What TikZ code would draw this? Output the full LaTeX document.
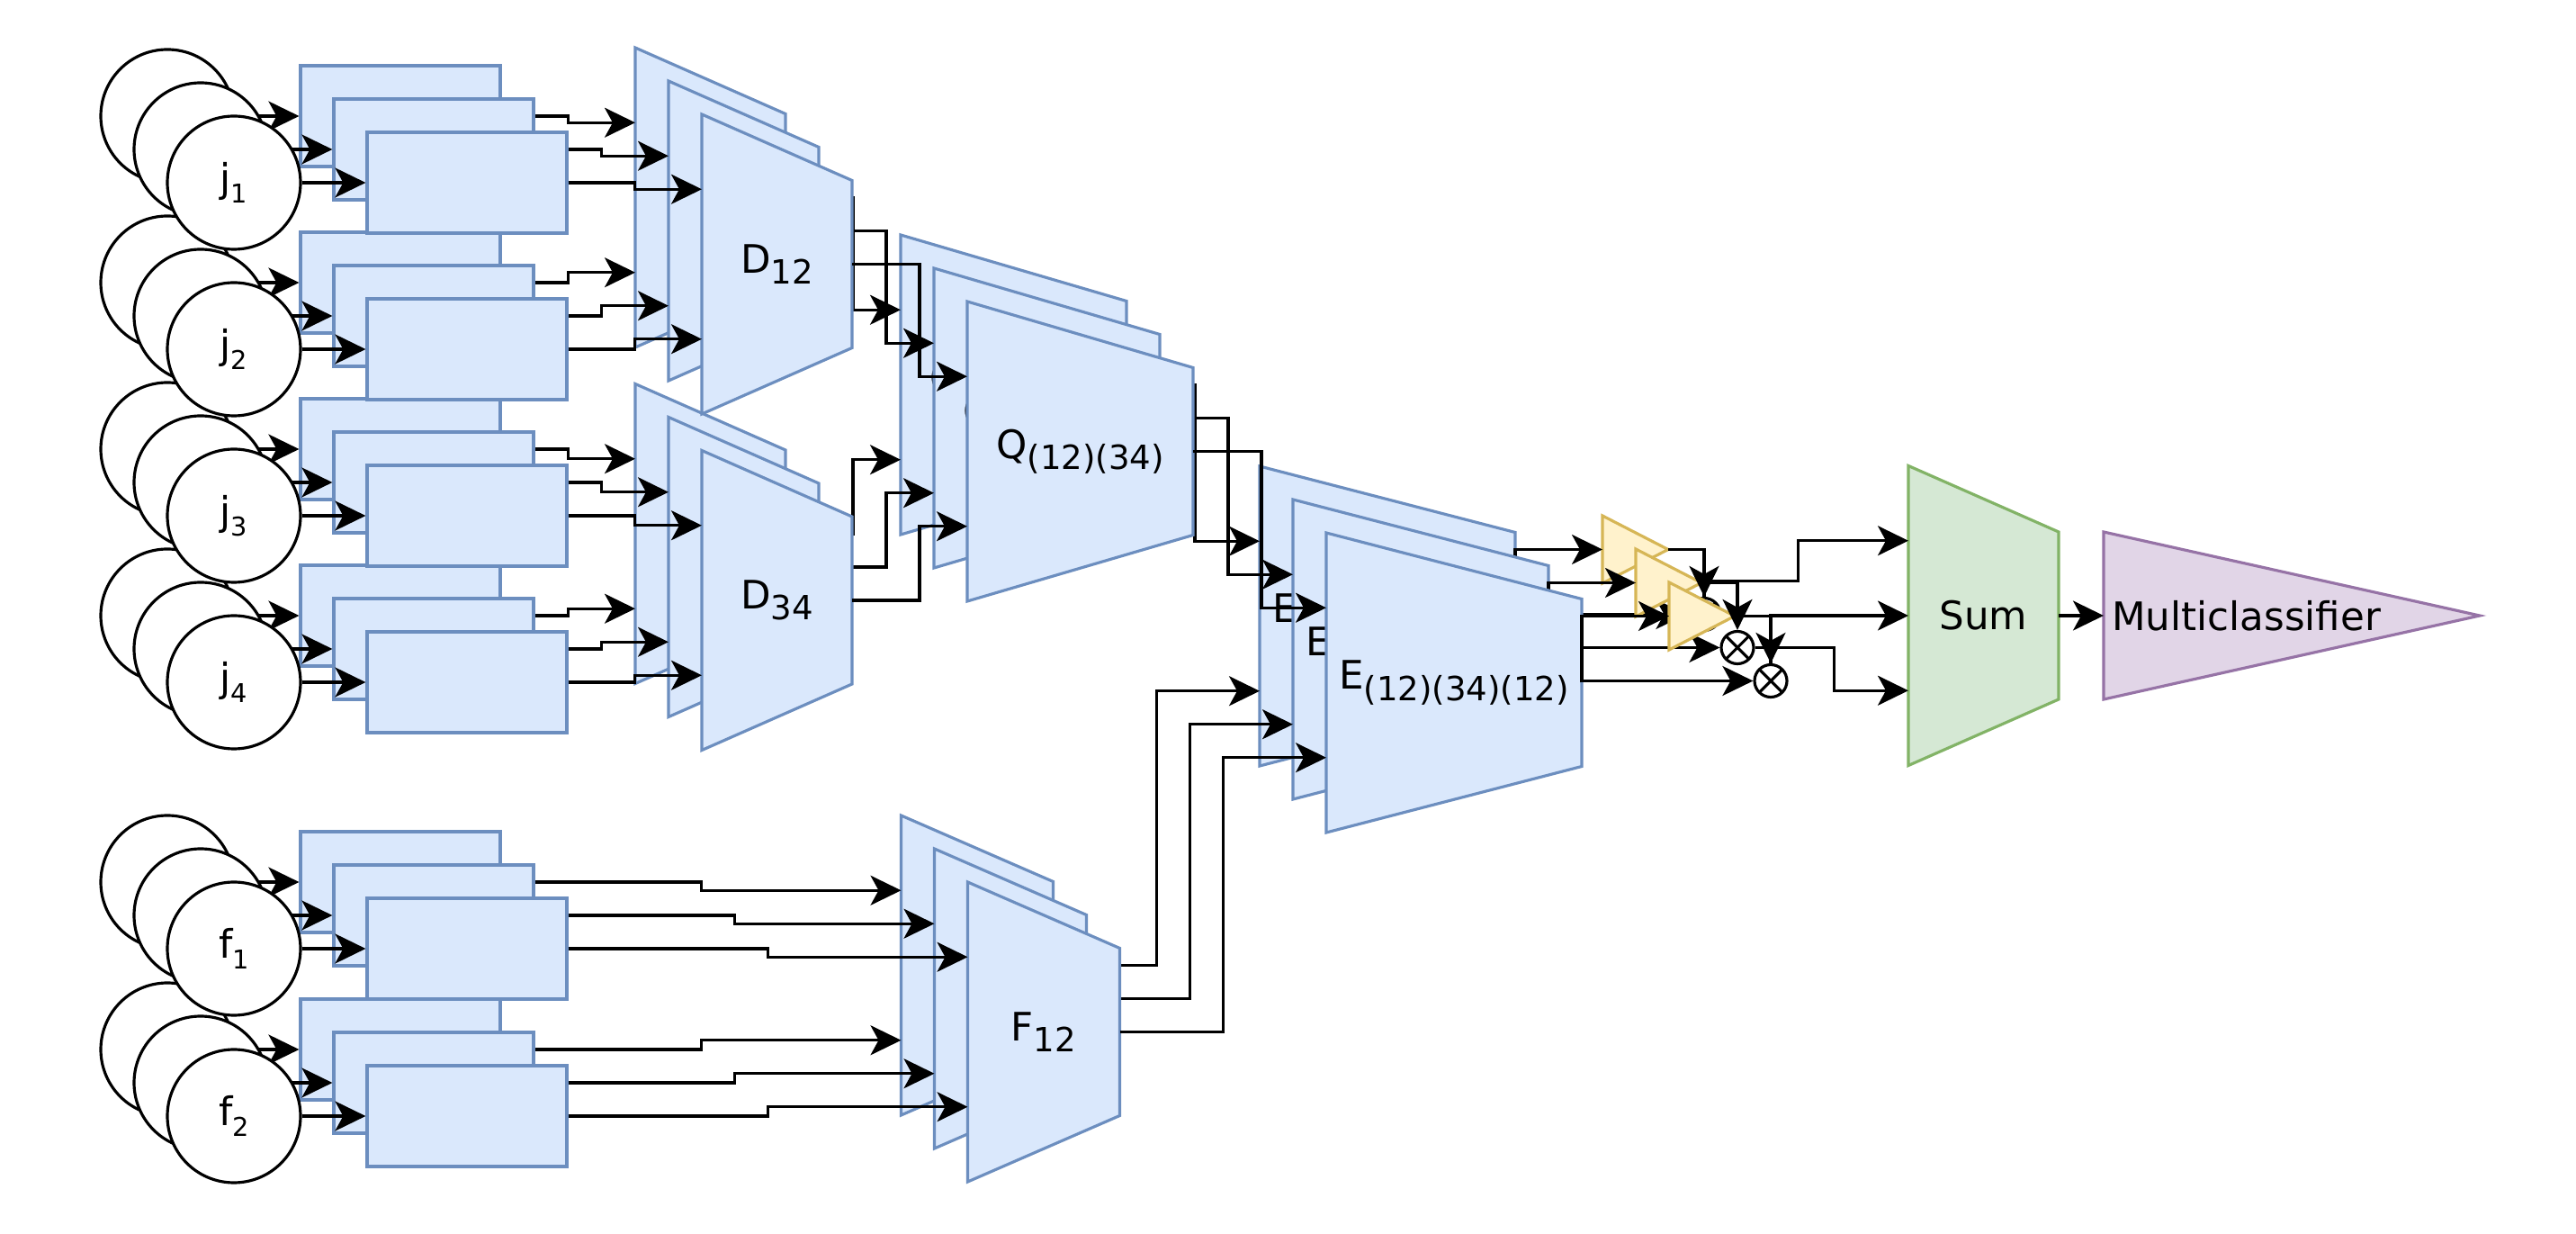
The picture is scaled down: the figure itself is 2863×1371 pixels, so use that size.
\documentclass[tikz,border=0pt]{standalone}
\usepackage{fontspec}
\setmainfont{DejaVu Sans}
\usepackage{tikz}
\usetikzlibrary{arrows.meta, calc}
\definecolor{bluefill}{HTML}{DAE8FC}
\definecolor{bluedraw}{HTML}{6C8EBF}
\definecolor{yelfill}{HTML}{FFF2CC}
\definecolor{yeldraw}{HTML}{D6B656}
\definecolor{grnfill}{HTML}{D5E8D4}
\definecolor{grndraw}{HTML}{82B366}
\definecolor{purfill}{HTML}{E1D5E7}
\definecolor{purdraw}{HTML}{9673A6}
\newcommand\lf{\fontsize{12.4}{15}\selectfont}
\newcommand\low[1]{\raisebox{-.28em}{\scalebox{.85}{#1}}}
\newcommand\lowc[1]{\raisebox{-.27em}{\scalebox{.66}{#1}}}
\tikzset{
  inp/.style={circle,draw=black,fill=white,line width=.9pt,minimum size=14.8mm,inner sep=0,font=\lf},
  blk/.style={rectangle,draw=bluedraw,fill=bluefill,line width=.9pt,minimum width=22.2mm,minimum height=11.2mm,inner sep=0},
  tbox/.style={inner sep=0,outer sep=0,minimum height=33.3mm},
  gbox/.style={inner sep=0,outer sep=0,minimum width=7.3mm,minimum height=7.5mm},
  cbox/.style={inner sep=0,outer sep=0,minimum width=41.8mm,minimum height=18.6mm},
  blu/.style={draw=bluedraw,fill=bluefill,line width=.9pt},
  yel/.style={draw=yeldraw,fill=yelfill,line width=.9pt},
  grn/.style={draw=grndraw,fill=grnfill,line width=.9pt},
  pur/.style={draw=purdraw,fill=purfill,line width=.9pt},
  mul/.style={circle,draw=black,fill=white,line width=.9pt,minimum size=3.6mm,inner sep=0,
    path picture={\draw[line width=.9pt] (path picture bounding box.north west) -- (path picture bounding box.south east)
      (path picture bounding box.south west) -- (path picture bounding box.north east);}},
  ar/.style={-{Stealth[length=3.4mm,width=3.3mm,inset=.9mm]},line width=.9pt},
  hvh/.style={to path={-| ($(\tikztostart)!.5!(\tikztotarget)$) |- (\tikztotarget) \tikztonodes}}
}
% trapezoid block: name, centre, width, style, text
\newcommand\trap[5]{%
  \node[tbox,minimum width=#3] (#1) at (#2) {};
  \draw[#4] (#1.north west) -- ($(#1.north east)+(0,73.5)$) -- ($(#1.south east)-(0,73.5)$) -- (#1.south west) -- cycle;
  \node[font=\lf] (#1-t) at (#1) {#5};
  \coordinate (#1-i1) at ($(#1.north west)!.25!(#1.south west)$);
  \coordinate (#1-i2) at ($(#1.north west)!.75!(#1.south west)$);
}
\begin{document}
\begin{tikzpicture}[x=0.1mm,y=-0.1mm]
\fill[white] (0,0) rectangle (2863,1371);
\useasboundingbox (0,0) rectangle (2863,1371);
% three stacked copies, back to front
\foreach \off/\lay in {74/a,37/b,0/c}{
  \trap{D12\lay}{863.5-\off,293.5-\off}{16.7mm}{blu}{D\low{12}}
  \trap{D34\lay}{863.5-\off,667-\off}{16.7mm}{blu}{D\low{34}}
  \trap{F12\lay}{1160-\off,1146.5-\off}{16.9mm}{blu}{F\low{12}}
  \trap{Q\lay}{1200.5-\off,501.5-\off}{25.1mm}{blu}{Q\low{(12)(34)}}
  \trap{E\lay}{1616-\off,758.5-\off}{28.4mm}{blu}{E\low{(12)(34)(12)}}
  \node[gbox] (g\lay) at (1891.5-\off,684.5-\off) {};
  \draw[yel] (g\lay.north west) -- (g\lay.east) -- (g\lay.south west) -- cycle;
  \node[mul] (m\lay) at (1968-\off,756.5-\off) {};
  % inputs
  \foreach \s/\n/\Y/\tr/\pn in {j/1/203/D12/1, j/2/388/D12/2, j/3/573/D34/1,
      j/4/758/D34/2, f/1/1054/F12/1, f/2/1240/F12/2}{
    \node[inp] (\s\n\lay) at (260-\off,\Y-\off) {\ifnum\off=0 \s\lowc{\n}\fi};
    \node[blk] (r\s\n\lay) at (519-\off,\Y-\off) {};
    \draw[ar] (\s\n\lay) -- (r\s\n\lay);
    \draw[ar] (r\s\n\lay.east) to[hvh] (\tr\lay-i\pn);
  }
  \draw[ar] (D12\lay.east) -- ++(75,0) |- (Q\lay-i1);
  \draw[ar] (D34\lay.east) -- ++(75,0) |- (Q\lay-i2);
  \draw[ar] (Q\lay.east) -- ++(76,0) |- (E\lay-i1);
  \draw[ar] (F12\lay.east) to[hvh] (E\lay-i2);
  \draw[ar] (E\lay.east) |- (g\lay.west);
  \draw[ar] (E\lay.east) |- (m\lay.west);
}
\draw[ar] (ga.east) -| (ma.north);
\draw[ar] (gb.east) -| (mb.north);
\draw[ar] (gc.east) -| (mc.north);
\trap{sum}{2204.5,684}{16.7mm}{grn}{Sum}
\draw[ar] (ma.north) -- ++(0,-17) -- ++(104.5,0) |- (sum-i1);
\draw[ar] (mc.north) |- (sum.west);
\draw[ar] (mb.east) -- ++(88,0) |- (sum-i2);
\node[cbox] (cls) at (2547,684) {};
\draw[pur] (cls.north west) -- (cls.east) -- (cls.south west) -- cycle;
\node[font=\lf] (cls-l) at (2496.5,684) {Multiclassifier};
\draw[ar] (sum.east) -- (cls.west);
\end{tikzpicture}
\end{document}
